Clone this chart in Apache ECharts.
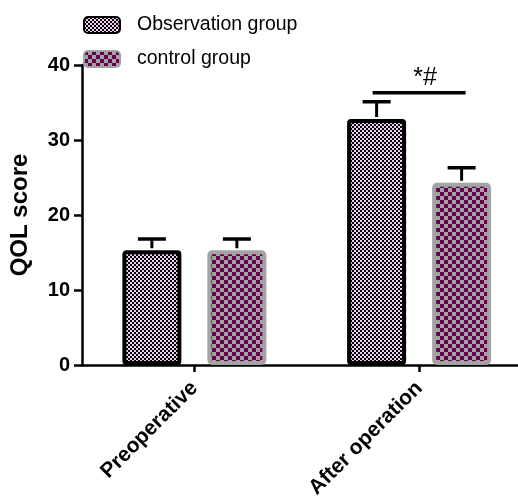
<!DOCTYPE html>
<html>
<head>
<meta charset="utf-8">
<script src="https://cdn.jsdelivr.net/npm/echarts@6/dist/echarts.min.js"></script>
<style>
html,body{margin:0;padding:0;background:#fff;}
#chart{width:518px;height:501px;}
</style>
</head>
<body>
<div id="chart"></div>
<script>
// ---- data ----
var categories = ['Preoperative', 'After operation'];
var seriesNames = ['Observation group', 'control group'];
var obsMean = [15.3, 32.8];
var obsSD = [1.5, 2.3];
var ctrlMean = [15.3, 24.3];
var ctrlSD = [1.5, 2.0];
var yTicks = [0, 10, 20, 30, 40];
var sigCategory = 1;
var sigY = 36.3;
var sigText = '*#';

// ---- styles ----
var FONT = 'Liberation Sans, Arial, sans-serif';
var BAR_W = 55, BORDER = 4, GAP = 26;
function makePattern(size, bg, fg, sq) {
  var c = document.createElement('canvas');
  c.width = size; c.height = size;
  var ctx = c.getContext('2d');
  ctx.fillStyle = bg; ctx.fillRect(0, 0, size, size);
  ctx.fillStyle = fg;
  ctx.fillRect(0, 0, sq, sq);
  ctx.fillRect(sq, sq, sq, sq);
  return c;
}
var obsPat = {image: makePattern(4, '#000000', '#efc9f0', 2), repeat: 'repeat'};
var ctrlPat = {image: makePattern(8, '#a3a3a3', '#66004f', 4), repeat: 'repeat'};
var outerW = BAR_W + BORDER;
var offset = (outerW + GAP) / 2;
var catIdx = categories.map(function (c, i) { return i; });

function pairs(vals) { return vals.map(function (v, i) { return [i, v]; }); }

function errRender(means, sds, dir) {
  return function (params, api) {
    var i = api.value(0);
    var top = api.coord([i, means[i] + sds[i]]);
    var base = api.coord([i, means[i]]);
    var x = top[0] + dir * offset;
    var capHalf = 14;
    return {
      type: 'group',
      children: [
        {type: 'line', shape: {x1: x, y1: base[1] - BORDER / 2, x2: x, y2: top[1]}, style: {stroke: '#000', lineWidth: 3}},
        {type: 'line', shape: {x1: x - capHalf, y1: top[1], x2: x + capHalf, y2: top[1]}, style: {stroke: '#000', lineWidth: 3.5}}
      ]
    };
  };
}

var chart = echarts.init(document.getElementById('chart'), null, {renderer: 'canvas'});
chart.setOption({
  animation: false,
  backgroundColor: '#ffffff',
  legend: {
    data: seriesNames,
    orient: 'vertical',
    left: 83, top: 15, padding: 0,
    itemWidth: 36, itemHeight: 16, itemGap: 14,
    textStyle: {fontFamily: FONT, fontSize: 19.5, lineHeight: 16, color: '#000', padding: [0, 0, 0, 12]},
    icon: 'roundRect'
  },
  grid: {left: 82, top: 65, right: 0, height: 300, containLabel: false},
  xAxis: {
    type: 'value',
    min: -0.5, max: 1.44,
    splitLine: {show: false},
    axisLine: {onZero: false, lineStyle: {color: '#000', width: 2.5}},
    axisTick: {show: true, customValues: catIdx, length: 7, lineStyle: {color: '#000', width: 2.5}},
    axisLabel: {
      customValues: catIdx,
      formatter: function (v) { return categories[Math.round(v)] || ''; },
      rotate: 45, margin: 20, fontFamily: FONT, fontSize: 21, fontWeight: 'bold', color: '#000'
    }
  },
  yAxis: {
    type: 'value',
    min: yTicks[0], max: yTicks[yTicks.length - 1], interval: 10,
    name: 'QOL score', nameLocation: 'middle', nameGap: 50,
    nameTextStyle: {fontFamily: FONT, fontSize: 24, fontWeight: 'bold', color: '#000'},
    axisLine: {show: true, onZero: false, lineStyle: {color: '#000', width: 2.5}},
    axisTick: {show: true, length: 8, lineStyle: {color: '#000', width: 2.5}},
    axisLabel: {margin: 12, fontFamily: FONT, fontSize: 20, fontWeight: 'bold', color: '#000'},
    splitLine: {show: false}
  },
  series: [
    {
      name: seriesNames[0], type: 'bar', data: pairs(obsMean),
      barWidth: outerW, barGap: (GAP / outerW * 100) + '%',
      itemStyle: {color: obsPat, borderColor: '#000', borderWidth: BORDER, borderRadius: 2}
    },
    {
      name: seriesNames[1], type: 'bar', data: pairs(ctrlMean),
      barWidth: outerW, barGap: (GAP / outerW * 100) + '%',
      itemStyle: {color: ctrlPat, borderColor: '#a3a3a3', borderWidth: BORDER, borderRadius: 3}
    },
    {
      type: 'custom', name: 'errObs', data: catIdx.map(function (i) { return [i]; }),
      renderItem: errRender(obsMean, obsSD, -1), z: 5
    },
    {
      type: 'custom', name: 'errCtrl', data: catIdx.map(function (i) { return [i]; }),
      renderItem: errRender(ctrlMean, ctrlSD, 1), z: 5
    },
    {
      type: 'custom', name: 'sig', data: [[sigCategory]], z: 5,
      renderItem: function (params, api) {
        var p = api.coord([sigCategory, sigY]);
        var x1 = p[0] - offset - 4, x2 = p[0] + offset + 4;
        return {
          type: 'group',
          children: [
            {type: 'line', shape: {x1: x1, y1: p[1], x2: x2, y2: p[1]}, style: {stroke: '#000', lineWidth: 3.5}},
            {type: 'text', style: {text: sigText, x: p[0] + 6, y: p[1] - 2, textAlign: 'center', textVerticalAlign: 'bottom', font: '25px ' + FONT, fill: '#000'}}
          ]
        };
      }
    }
  ]
});
</script>
</body>
</html>
